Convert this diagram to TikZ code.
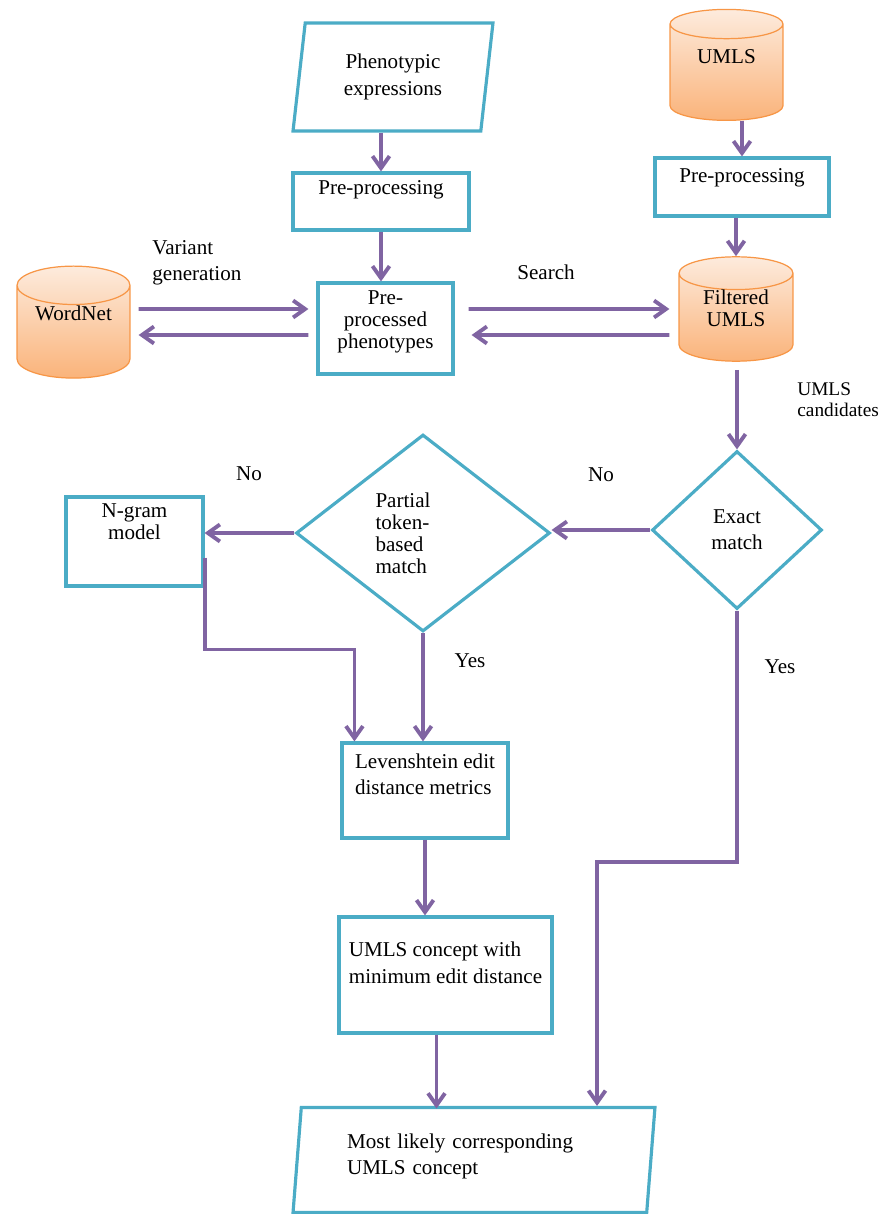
\documentclass[tikz,border=0pt]{standalone}
\usepackage{fontspec}
\setmainfont{Liberation Serif}
\usetikzlibrary{shapes.geometric,arrows.meta,calc}
\definecolor{bteal}{HTML}{4BACC6}
\definecolor{fpurple}{HTML}{8064A2}
\definecolor{dborange}{HTML}{F79646}
\definecolor{dblight}{HTML}{FDEBDD}
\definecolor{dbdark}{HTML}{FAB37A}

\begin{document}
\begin{tikzpicture}[x=0.02cm, y=-0.02cm, font=\fontsize{12}{15}\selectfont]

      \tikzset{
            box/.style = {draw=bteal, line width=1.8pt, fill=white, rectangle, inner sep=0pt, align=center},
            para/.style = {box, trapezium, trapezium stretches body},
            dec/.style = {draw=bteal, line width=1.8pt, diamond, inner sep=0pt, align=center},
            db/.style = {cylinder, shape border rotate=90, aspect=0.5, draw=dborange, line width=0.7pt,
                  top color=dblight, bottom color=dbdark, inner sep=0pt, align=center},
            flow/.style = {draw=fpurple, line width=2.2pt, -{Straight Barb[length=2.4mm, width=3.4mm]}},
            tight/.style = {font=\fontsize{12}{12.5}\selectfont}
      };

      \useasboundingbox (0,0) rectangle (884,1214);

      % Inputs and pre-processing
      \node[para, trapezium left angle=75, trapezium right angle=105, minimum width=4cm, minimum height=2.16cm] (phen) at (393,77) {Phenotypic\\expressions};
      \node[box, minimum width=3.52cm, minimum height=1.14cm, text depth=0.55cm] (pre1) at (381,201.5) {Pre-processing};
      \node[db, minimum width=2.26cm, minimum height=2.22cm, text depth=0.62cm] (umls) at (726.5,72.5) {UMLS};
      \node[box, minimum width=3.48cm, minimum height=1.16cm, text depth=0.45cm] (pre2) at (742,187) {Pre-processing};

      % Variants and search
      \node[db, minimum width=2.26cm, minimum height=2.24cm, text depth=0.76cm] (wn) at (73.5,332) {WordNet};
      \node[box, tight, minimum width=2.7cm, minimum height=1.82cm, text depth=0.35cm] (prep) at (385.5,328.5) {Pre-\\processed\\phenotypes};
      \node[db, tight, minimum width=2.28cm, minimum height=2.06cm, text depth=0.36cm] (filt) at (736,317.5) {Filtered\\UMLS};

      % Matching
      \node[dec, minimum width=3.4cm, minimum height=3.16cm] (exact) at (737,530) {Exact\\match};
      \node[dec, tight, align=left, text width=1.9cm, minimum width=5.08cm, minimum height=3.94cm] (partial) at (423,533) {Partial\\token-\\based\\match};
      \node[box, tight, minimum width=2.74cm, minimum height=1.78cm, text depth=0.8cm] (ngram) at (134.5,541.5) {N-gram\\model};
      \node[box, align=left, minimum width=3.32cm, minimum height=1.9cm, text depth=0.66cm] (lev) at (425,790.5) {Levenshtein edit\\distance metrics};
      \node[box, align=left, minimum width=4.26cm, minimum height=2.32cm, text depth=0.5cm] (umlsc) at (445.5,975) {UMLS concept with\\minimum edit distance};
      \node[para, align=left, text width=5.08cm, trapezium left angle=81, trapezium right angle=99, minimum width=7.24cm, minimum height=2.1cm, text depth=0.75cm] (final) at (474,1160) {Most likely corresponding\\UMLS concept};

      % Labels
      \node[anchor=west, align=left, inner sep=0pt] (variant) at (152,263) {Variant\\generation};
      \node (search) at (546,272) {Search};
      \node[anchor=west, align=left, inner sep=0pt, font=\fontsize{11}{12}\selectfont] (cand) at (797,400) {UMLS\\candidates};
      \node (noexact) at (601,475) {No};
      \node (nopartial) at (249,474) {No};
      \node (yespartial) at (470,661) {Yes};
      \node (yesexact) at (780,667) {Yes};

      % Connectors
      \draw[flow] (phen.south -| pre1.north) -- (pre1.north);
      \draw[flow] (pre1.south) -- (pre1.south |- prep.north);
      \draw[flow] (pre2.north |- umls.south) -- (pre2.north);
      \draw[flow] (pre2.south -| filt.north) -- (filt.north);
      \draw[flow] ($(wn.east)+(8,-23)$) -- ($(prep.west)+(-8,-19.5)$);
      \draw[flow] ($(prep.west)+(-8,6.5)$) -- ($(wn.east)+(8,3)$);
      \draw[flow] ($(prep.east)+(14,-19.5)$) -- ($(filt.west)+(-9,-8.5)$);
      \draw[flow] ($(filt.west)+(-9,17.5)$) -- ($(prep.east)+(17,6.5)$);
      \draw[flow] ($(filt.south)+(1,8)$) -- (exact.north);
      \draw[flow] (exact.west) -- (exact.west -| partial.east);
      \draw[flow] (partial.west) -- (partial.west -| ngram.east);
      \draw[flow] ($(ngram.east)+(0,16)$) -- ++(0,92) -| ($(lev.north west)+(14,0)$);
      \draw[flow] (partial.south) -- (partial.south |- lev.north);
      \draw[flow] (lev.south) -- (lev.south |- umlsc.north);
      \draw[flow] ($(umlsc.south)+(-9,0)$) -- ++(0,74);
      \draw[flow] (exact.south) -- ++(0,251) -| ($(final.north)+(123,0)$);

\end{tikzpicture}
\end{document}
